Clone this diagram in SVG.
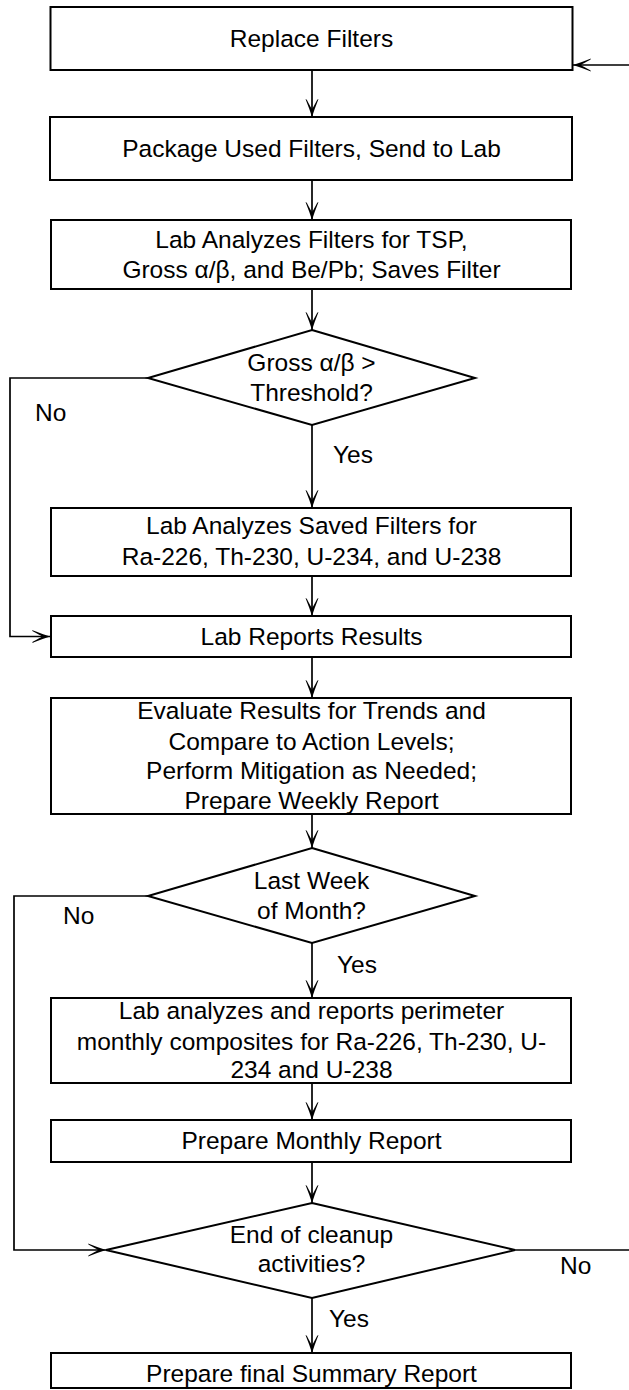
<svg xmlns="http://www.w3.org/2000/svg" width="629" height="1390" viewBox="0 0 629 1390">
<style>
.box{fill:#fff;stroke:#000;stroke-width:2}
.t{font-family:"Liberation Sans",Arial,sans-serif;font-size:24.5px;fill:#000;text-anchor:middle}
.l{font-family:"Liberation Sans",Arial,sans-serif;font-size:24.5px;fill:#000}
.c{fill:none;stroke:#000;stroke-width:1.7;marker-end:url(#ah)}
</style>
<defs>
<marker id="ah" markerUnits="userSpaceOnUse" viewBox="-19 -8 20 16" refX="0" refY="0" markerWidth="20" markerHeight="16" orient="auto" overflow="visible">
<path d="M0 0 Q-8 -2.5 -18 -6.5 L-17.3 -5.2 Q-10 -1.5 -8 0 Q-10 1.5 -17.3 5.2 L-18 6.5 Q-8 2.5 0 0 Z" fill="#000"/>
</marker>
</defs>
<g id="connectors">
<path class="c" d="M312 70 V117"/>
<path class="c" d="M312 180 V220"/>
<path class="c" d="M312 289 V330"/>
<path class="c" d="M312 425 V508"/>
<path class="c" d="M148 378 H10 V636.5 H50"/>
<path class="c" d="M312 576 V616"/>
<path class="c" d="M312 657 V698"/>
<path class="c" d="M312 814 V848"/>
<path class="c" d="M312 943 V998"/>
<path class="c" d="M148 896 H14 V1250 H106"/>
<path class="c" d="M312 1083 V1120"/>
<path class="c" d="M312 1162 V1203"/>
<path class="c" d="M312 1298 V1353"/>
<path class="c" d="M515 1250 H634 V65 H573"/>
</g>
<g id="labels">
<text class="l" x="35" y="421">No</text>
<text class="l" x="333" y="463">Yes</text>
<text class="l" x="63" y="924">No</text>
<text class="l" x="337" y="973">Yes</text>
<text class="l" x="560" y="1274">No</text>
<text class="l" x="329" y="1327">Yes</text>
</g>
<g id="n1"><rect class="box" x="50.5" y="7" width="522" height="63"/><text class="t" x="311.5" y="47">Replace Filters</text></g>
<g id="n2"><rect class="box" x="50" y="117" width="522" height="63"/><text class="t" x="311.5" y="157">Package Used Filters, Send to Lab</text></g>
<g id="n3"><rect class="box" x="51" y="220" width="520" height="69"/><text class="t" x="311.5" y="248">Lab Analyzes Filters for TSP,</text><text class="t" x="311.5" y="278">Gross α/β, and Be/Pb; Saves Filter</text></g>
<g id="d1"><polygon class="box" points="312,330 475,378 312,425 148,378"/><text class="t" x="311.5" y="371">Gross α/β &gt;</text><text class="t" x="311.5" y="401">Threshold?</text></g>
<g id="n4"><rect class="box" x="51" y="508" width="520" height="68"/><text class="t" x="311.5" y="534">Lab Analyzes Saved Filters for</text><text class="t" x="311.5" y="565">Ra-226, Th-230, U-234, and U-238</text></g>
<g id="n5"><rect class="box" x="51" y="616" width="520" height="41"/><text class="t" x="311.5" y="645">Lab Reports Results</text></g>
<g id="n6"><rect class="box" x="51" y="698" width="520" height="116"/><text class="t" x="311.5" y="719">Evaluate Results for Trends and</text><text class="t" x="311.5" y="750">Compare to Action Levels;</text><text class="t" x="311.5" y="779">Perform Mitigation as Needed;</text><text class="t" x="311.5" y="809">Prepare Weekly Report</text></g>
<g id="d2"><polygon class="box" points="312,848 475,896 312,943 148,896"/><text class="t" x="311.5" y="889">Last Week</text><text class="t" x="311.5" y="919">of Month?</text></g>
<g id="n7"><rect class="box" x="51" y="998" width="520" height="85"/><text class="t" x="311.5" y="1019">Lab analyzes and reports perimeter</text><text class="t" x="311.5" y="1050">monthly composites for Ra-226, Th-230, U-</text><text class="t" x="311.5" y="1078">234 and U-238</text></g>
<g id="n8"><rect class="box" x="51" y="1120" width="520" height="42"/><text class="t" x="311.5" y="1149">Prepare Monthly Report</text></g>
<g id="d3"><polygon class="box" points="312,1203 515,1250 312,1298 106,1250"/><text class="t" x="311.5" y="1243">End of cleanup</text><text class="t" x="311.5" y="1272">activities?</text></g>
<g id="n9"><rect class="box" x="51" y="1353" width="520" height="35"/><text class="t" x="311.5" y="1382">Prepare final Summary Report</text></g>
</svg>
